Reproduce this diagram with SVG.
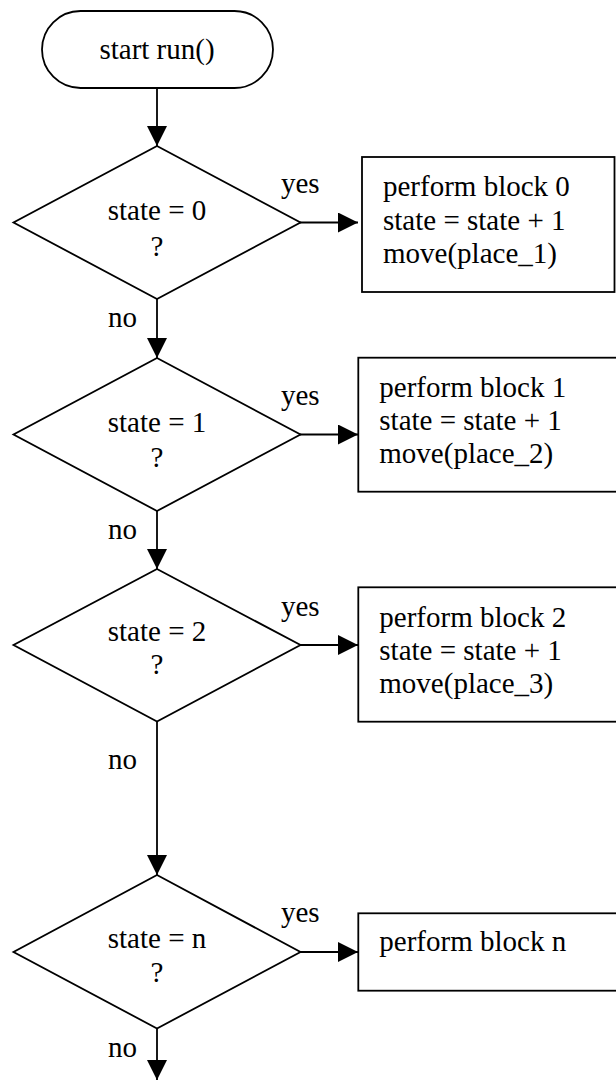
<svg xmlns="http://www.w3.org/2000/svg" width="616" height="1080" viewBox="0 0 616 1080">
  <style>
    text { font-family: "Liberation Serif", "Times New Roman", serif; font-size: 29px; fill: #000; }
    .c { text-anchor: middle; }
    .shape { fill: #fff; stroke: #000; stroke-width: 1.8; }
    .wire { fill: none; stroke: #000; stroke-width: 1.8; }
  </style>
  <defs>
    <marker id="arrow" viewBox="0 0 20 20" refX="20" refY="10" markerWidth="20" markerHeight="20" markerUnits="userSpaceOnUse" orient="auto">
      <path d="M0,0 L20,10 L0,20 Z" fill="#000"/>
    </marker>
  </defs>

  <!-- connectors -->
  <g id="connectors">
    <line class="wire" x1="157" y1="88" x2="157" y2="146" marker-end="url(#arrow)"/>
    <line class="wire" x1="300" y1="222.5" x2="358" y2="222.5" marker-end="url(#arrow)"/>
    <line class="wire" x1="157" y1="299" x2="157" y2="358" marker-end="url(#arrow)"/>
    <line class="wire" x1="300" y1="434.5" x2="358" y2="434.5" marker-end="url(#arrow)"/>
    <line class="wire" x1="157" y1="511" x2="157" y2="569" marker-end="url(#arrow)"/>
    <line class="wire" x1="300" y1="645" x2="358" y2="645" marker-end="url(#arrow)"/>
    <line class="wire" x1="157" y1="721.5" x2="157" y2="875" marker-end="url(#arrow)"/>
    <line class="wire" x1="300" y1="952" x2="358" y2="952" marker-end="url(#arrow)"/>
    <line class="wire" x1="157" y1="1028.5" x2="157" y2="1080" marker-end="url(#arrow)"/>
    <text x="281" y="193">yes</text>
    <text x="108" y="327">no</text>
    <text x="281" y="405">yes</text>
    <text x="108" y="538.5">no</text>
    <text x="281" y="615.5">yes</text>
    <text x="108" y="768.5">no</text>
    <text x="281" y="922">yes</text>
    <text x="108" y="1057">no</text>
  </g>

  <!-- start terminal -->
  <g id="start">
    <rect class="shape" x="42" y="11" width="231" height="77" rx="38.5" ry="38.5"/>
    <text class="c" x="157" y="59">start run()</text>
  </g>

  <!-- decisions and their action blocks -->
  <g id="decision0">
    <polygon class="shape" points="157,146 300.5,222.5 157,299 13.5,222.5"/>
    <text class="c" x="157" y="220">state = 0</text>
    <text class="c" x="157" y="256">?</text>
  </g>
  <g id="block0">
    <rect class="shape" x="362" y="157" width="252.5" height="135"/>
    <text x="383" y="196">perform block 0</text>
    <text x="383" y="229.5">state = state + 1</text>
    <text x="383" y="262.5">move(place_1)</text>
  </g>

  <g id="decision1">
    <polygon class="shape" points="157,358 300.5,434.5 157,511 13.5,434.5"/>
    <text class="c" x="157" y="432">state = 1</text>
    <text class="c" x="157" y="467">?</text>
  </g>
  <g id="block1">
    <rect class="shape" x="358.3" y="357.7" width="262" height="134"/>
    <text x="379.3" y="396.7">perform block 1</text>
    <text x="379.3" y="430">state = state + 1</text>
    <text x="379.3" y="463.3">move(place_2)</text>
  </g>

  <g id="decision2">
    <polygon class="shape" points="157,569 300.5,645 157,721.5 13.5,645"/>
    <text class="c" x="157" y="641">state = 2</text>
    <text class="c" x="157" y="674">?</text>
  </g>
  <g id="block2">
    <rect class="shape" x="358.3" y="587.3" width="262" height="134.4"/>
    <text x="379.3" y="626.7">perform block 2</text>
    <text x="379.3" y="660">state = state + 1</text>
    <text x="379.3" y="693.3">move(place_3)</text>
  </g>

  <g id="decision3">
    <polygon class="shape" points="157,875 300.5,952 157,1028.5 13.5,952"/>
    <text class="c" x="157" y="948">state = n</text>
    <text class="c" x="157" y="982">?</text>
  </g>
  <g id="blockN">
    <rect class="shape" x="358.3" y="913.3" width="262" height="77.4"/>
    <text x="379.3" y="951">perform block n</text>
  </g>
</svg>
